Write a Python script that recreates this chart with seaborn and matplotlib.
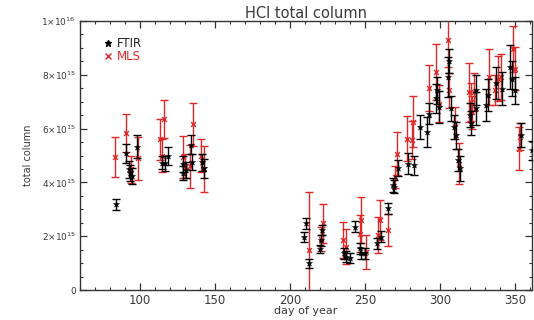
import numpy as np
import matplotlib
matplotlib.use("Agg")
import matplotlib.pyplot as plt
from matplotlib.lines import Line2D
from matplotlib.ticker import MultipleLocator
import seaborn as sns

# FTIR: day of year, total column (1e15), error (1e15)
ftir_day = [84.0, 90.7, 92.9, 93.5, 94.7, 98.0, 114.5, 116.5, 118.4, 128.3, 128.6, 130.4,
            133.9, 134.5, 141.3, 142.9, 209.2, 210.2, 212.4, 220.0, 220.7, 221.3, 235.7,
            237.3, 239.5, 242.9, 246.2, 247.3, 249.5, 258.0, 260.7, 265.1, 268.4, 269.0,
            271.8, 278.4, 282.4, 286.2, 291.3, 292.2, 296.9, 297.8, 299.1, 305.0, 305.5,
            307.3, 308.9, 310.2, 311.8, 312.9, 319.5, 320.5, 323.5, 324.0, 330.2, 331.7,
            336.9, 340.7, 346.2, 348.0, 349.5, 354.0, 361.0]
ftir_val = [3.18, 5.08, 4.48, 4.35, 4.23, 5.32, 4.73, 4.72, 4.98, 4.70, 4.35, 4.45,
            5.40, 4.75, 4.74, 4.52, 1.98, 2.48, 0.99, 1.51, 1.85, 2.23, 1.36,
            1.24, 1.18, 2.35, 1.55, 1.36, 1.36, 1.73, 1.98, 3.03, 3.90, 3.84,
            4.52, 4.70, 4.64, 6.06, 5.88, 6.56, 7.12, 7.43, 6.80, 7.92, 8.50,
            6.75, 6.06, 5.75, 4.83, 4.52, 6.50, 6.20, 7.43, 6.75, 6.87, 7.24,
            7.70, 7.49, 8.29, 7.86, 7.43, 5.75, 5.20]
ftir_err = [0.20, 0.35, 0.30, 0.30, 0.30, 0.43, 0.25, 0.28, 0.35, 0.30, 0.25, 0.30,
            0.35, 0.30, 0.30, 0.35, 0.18, 0.20, 0.18, 0.15, 0.20, 0.20, 0.20,
            0.20, 0.18, 0.20, 0.20, 0.20, 0.20, 0.20, 0.20, 0.22, 0.25, 0.25,
            0.30, 0.40, 0.35, 0.45, 0.55, 0.40, 0.55, 0.50, 0.60, 0.75, 0.45,
            0.45, 0.45, 0.50, 0.40, 0.45, 0.45, 0.45, 0.55, 0.60, 0.60, 0.60,
            0.60, 0.60, 0.80, 0.65, 0.50, 0.45, 0.35]

# MLS
mls_day = [83.5, 90.7, 94.0, 98.4, 113.5, 114.8, 115.7, 128.4, 130.2, 133.5, 135.5, 140.6,
           142.4, 212.3, 220.5, 221.5, 235.1, 237.0, 246.5, 247.3, 250.7, 258.4, 260.0,
           265.1, 269.5, 271.1, 277.7, 281.2, 281.7, 292.2, 297.0, 299.1, 305.0, 306.0,
           309.5, 312.5, 319.1, 320.5, 321.0, 322.2, 332.4, 336.2, 338.4, 340.5, 348.4,
           349.5, 352.4, 352.8]
mls_val = [4.95, 5.84, 4.48, 4.89, 5.60, 5.00, 6.35, 4.95, 4.60, 4.60, 6.16, 5.00,
           4.50, 1.50, 1.90, 2.48, 1.86, 1.60, 2.10, 2.60, 1.42, 2.04, 2.60,
           2.23, 4.21, 5.07, 5.63, 5.57, 6.25, 7.50, 8.10, 6.93, 9.28, 7.43,
           6.20, 4.70, 7.35, 7.00, 6.60, 7.36, 7.92, 7.43, 7.86, 7.92, 8.95,
           8.23, 5.26, 5.70]
mls_err = [0.74, 0.71, 0.50, 0.80, 0.75, 0.60, 0.70, 0.77, 0.45, 0.80, 0.80, 0.60,
           0.85, 2.15, 0.45, 0.72, 0.67, 0.65, 0.70, 0.85, 0.63, 0.68, 0.75,
           0.60, 0.40, 0.80, 0.85, 0.70, 0.95, 0.85, 1.05, 0.70, 1.00, 0.65,
           0.60, 0.75, 1.10, 0.70, 0.60, 0.70, 1.05, 0.55, 0.85, 0.85, 0.85,
           0.80, 0.80, 0.50]

y_ticks = [0, 2e15, 4e15, 6e15, 8e15, 1e16]
y_labels = ["0", "2\u00d710$^{15}$", "4\u00d710$^{15}$", "6\u00d710$^{15}$",
            "8\u00d710$^{15}$", "1\u00d710$^{16}$"]

red = "#e02828"
txt = "#3a3a3a"

sns.set_style("ticks")
plt.rcParams["font.family"] = ["DejaVu Sans"]

fig = plt.figure(figsize=(5.34, 3.2), dpi=100)
ax = fig.add_axes([80 / 534, 30 / 320, 452 / 534, 269 / 320])

fd = np.array(ftir_day)
fv = np.array(ftir_val) * 1e15
fe = np.array(ftir_err) * 1e15
md = np.array(mls_day)
mv = np.array(mls_val) * 1e15
me = np.array(mls_err) * 1e15

ax.errorbar(md, mv, yerr=me, fmt="none", ecolor=red, elinewidth=1.0,
            capsize=2.8, capthick=1.0, zorder=2)
sns.scatterplot(x=md, y=mv, marker="x", color=red, s=12, linewidth=1.0, ax=ax, zorder=3)
ax.errorbar(fd, fv, yerr=fe, fmt="none", ecolor="black", elinewidth=1.0,
            capsize=2.8, capthick=1.0, zorder=4)
sns.scatterplot(x=fd, y=fv, marker="*", color="black", s=22, linewidth=0.3,
                edgecolor="black", ax=ax, zorder=5)

ax.set_xlim(60, 361)
ax.set_ylim(0, 1e16)
ax.xaxis.set_minor_locator(MultipleLocator(10))
ax.set_xticks([100, 150, 200, 250, 300, 350])
ax.set_yticks(y_ticks)
ax.set_yticklabels(y_labels)
ax.yaxis.set_minor_locator(MultipleLocator(5e14))

ax.tick_params(which="both", direction="in", top=True, right=True, colors="#333333")
ax.tick_params(which="major", length=5, width=0.9)
ax.tick_params(which="minor", length=2.5, width=0.8)
ax.tick_params(axis="x", labelsize=8.5, labelcolor=txt, pad=3)
ax.tick_params(axis="y", labelsize=6.5, labelcolor=txt, pad=3)
for s in ax.spines.values():
    s.set_color("#333333")
    s.set_linewidth(1.0)

ax.set_title("HCl total column", fontsize=10.5, color=txt, pad=2)
ax.set_xlabel("day of year", fontsize=8, color=txt, labelpad=-1)
ax.set_ylabel("total column", fontsize=7, color=txt, labelpad=6)

handles = [Line2D([], [], marker="*", color="black", linestyle="none", markersize=5),
           Line2D([], [], marker="x", color=red, linestyle="none", markersize=4)]
ax.legend(handles, ["FTIR", "MLS"], loc="upper left", bbox_to_anchor=(0.035, 0.965),
          frameon=False, fontsize=8.5, handlelength=0.8, handletextpad=0.4,
          labelspacing=0.0, labelcolor=["#222222", red], borderaxespad=0.2)

fig.savefig("out.png", dpi=100)
